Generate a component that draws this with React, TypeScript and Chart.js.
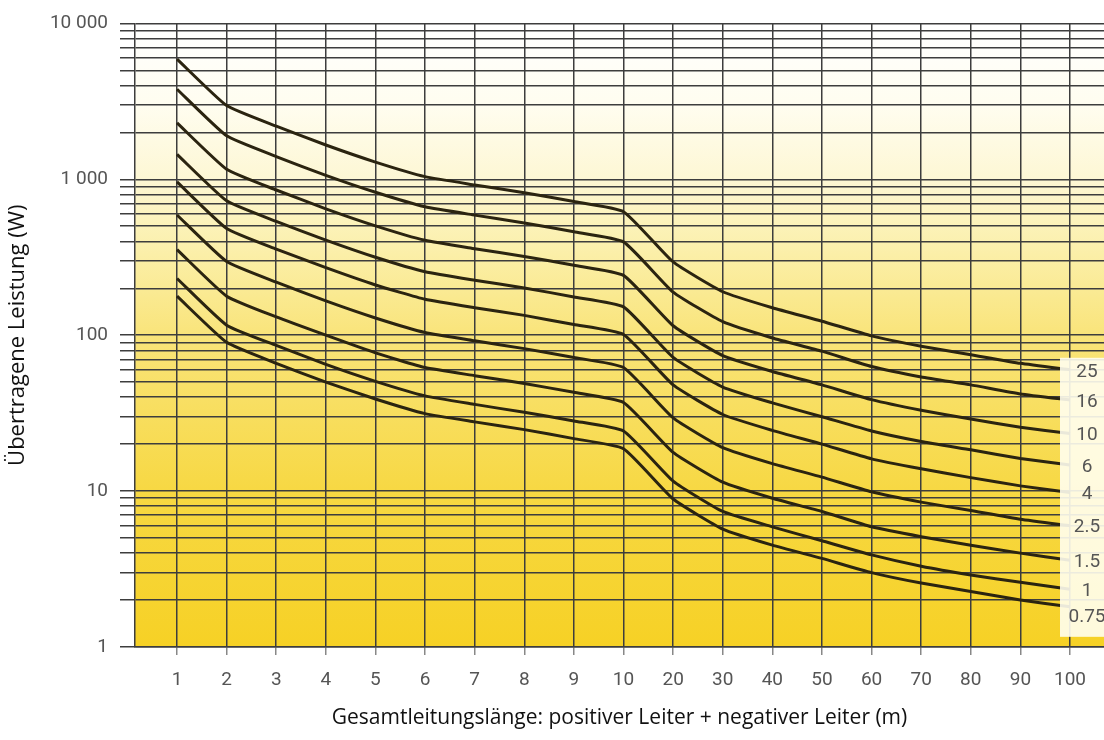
import React, { useEffect, useRef } from "react";
import { Chart, registerables } from "chart.js";

Chart.register(...registerables);

// Categories (cable length, m)
const X_LABELS = ["1", "2", "3", "4", "5", "6", "7", "8", "9", "10", "20", "30", "40", "50", "60", "70", "80", "90", "100"];

// Series names (cross-section, mm²)
const SERIES_NAMES = ["25", "16", "10", "6", "4", "2.5", "1.5", "1", "0.75"];

// Transferred power (W), one value per category
const S25 = [5900, 2970, 2190, 1660, 1290, 1040, 920, 820, 720, 620, 295, 190, 150, 123, 99, 85, 75, 66, 60];
const S16 = [3780, 1900, 1400, 1060, 826, 666, 589, 525, 461, 397, 189, 122, 96, 79, 63, 54, 48, 42, 38.4];
const S10 = [2300, 1160, 854, 647, 503, 406, 359, 320, 281, 242, 115, 74, 58.5, 48, 38.6, 33, 29, 25.7, 23.4];
const S6 = [1445, 728, 537, 407, 316, 255, 225, 201, 176, 152, 72, 46.5, 36.8, 30, 24.3, 20.8, 18.4, 16.2, 14.7];
const S4 = [962, 484, 357, 271, 210, 170, 150, 134, 117, 101, 48, 31, 24.5, 20, 16.1, 13.9, 12.2, 10.8, 9.8];
const S2_5 = [590, 297, 219, 166, 129, 104, 92, 82, 72, 62, 29.5, 19, 15, 12.3, 9.9, 8.5, 7.5, 6.6, 6.0];
const S1_5 = [354, 178, 131, 100, 77, 62, 55, 49, 43, 37, 17.7, 11.4, 9, 7.4, 5.9, 5.1, 4.5, 4.0, 3.6];
const S1 = [231, 116, 86, 65, 50.6, 40.8, 36, 32, 28.2, 24.3, 11.6, 7.4, 5.9, 4.8, 3.9, 3.3, 2.9, 2.6, 2.35];
const S0_75 = [178, 90, 66, 50, 39, 31.4, 27.8, 24.8, 21.7, 18.7, 8.9, 5.7, 4.5, 3.7, 3.0, 2.57, 2.27, 2.0, 1.81];

const SERIES = [S25, S16, S10, S6, S4, S2_5, S1_5, S1, S0_75];

// Y axis labelled ticks
const Y_TICK_VALUES = [1, 10, 100, 1000, 10000];
const Y_TICK_LABELS = ["1", "10", "100", "1 000", "10 000"];

const Y_TITLE = "Übertragene Leistung (W)";
const X_TITLE = "Gesamtleitungslänge: positiver Leiter + negativer Leiter (m)";

const TICK_FONT = 'Roboto, "Liberation Sans Narrow", sans-serif';
const TITLE_FONT = '"Open Sans", "Noto Sans", sans-serif';

export default function App() {
  const canvasRef = useRef<HTMLCanvasElement | null>(null);

  useEffect(() => {
    const canvas = canvasRef.current;
    if (!canvas) return;

    const yGrid: number[] = [];
    for (let d = 0; d < Y_TICK_VALUES.length - 1; d++) {
      for (let m = 1; m <= 9; m++) yGrid.push(m * Y_TICK_VALUES[d]);
    }
    yGrid.push(Y_TICK_VALUES[Y_TICK_VALUES.length - 1]);

    const bgPlugin = {
      id: "bgGradient",
      beforeDraw(chart: any) {
        const { ctx, chartArea } = chart;
        if (!chartArea) return;
        const g = ctx.createLinearGradient(0, chartArea.top, 0, chartArea.bottom);
        g.addColorStop(0, "#FFFFFF");
        g.addColorStop(0.13, "#FFFDF0");
        g.addColorStop(0.25, "#FDF7D4");
        g.addColorStop(0.37, "#FBEFA8");
        g.addColorStop(0.5, "#F9E47A");
        g.addColorStop(0.75, "#F7D843");
        g.addColorStop(1, "#F6D125");
        ctx.save();
        ctx.fillStyle = g;
        ctx.fillRect(chartArea.left, chartArea.top, chartArea.right - chartArea.left, chartArea.bottom - chartArea.top);
        ctx.restore();
      },
    };

    const labelPlugin = {
      id: "seriesLabels",
      afterDatasetsDraw(chart: any) {
        const { ctx, chartArea, scales } = chart;
        const ys = SERIES.map((s) => scales.y.getPixelForValue(s[s.length - 1]));
        const boxLeft = chartArea.right - 44;
        const top = ys[0] - 12;
        const bottom = ys[ys.length - 1] + 30;
        ctx.save();
        ctx.fillStyle = "rgba(255,254,240,0.9)";
        ctx.fillRect(boxLeft, top, chartArea.right - boxLeft, bottom - top);
        ctx.fillStyle = "#555";
        ctx.font = "19px " + TICK_FONT;
        ctx.textAlign = "center";
        ctx.textBaseline = "middle";
        SERIES_NAMES.forEach((name, i) => {
          const extra = i === SERIES_NAMES.length - 1 ? 10 : 2;
          ctx.fillText(name, chartArea.right - 17, ys[i] + extra);
        });
        ctx.restore();
      },
    };

    const chart = new Chart(canvas, {
      type: "line",
      data: {
        datasets: SERIES.map((s, i) => ({
          label: SERIES_NAMES[i],
          data: s.map((v, j) => ({ x: j + 1, y: v })),
          borderColor: "#2B2410",
          borderWidth: 3,
          pointRadius: 0,
          tension: 0.15,
          fill: false,
        })),
      },
      options: {
        animation: false,
        responsive: false,
        devicePixelRatio: 1,
        layout: { padding: { top: 17, right: 0, left: 0, bottom: 0 } },
        plugins: { legend: { display: false }, tooltip: { enabled: false } },
        scales: {
          x: {
            type: "linear",
            min: 0.153,
            max: 19.685,
            afterFit: (scale: any) => {
              scale.height = 93;
            },
            afterBuildTicks: (scale: any) => {
              scale.ticks = X_LABELS.map((_, i) => ({ value: i + 1 }));
            },
            ticks: {
              autoSkip: false,
              maxRotation: 0,
              padding: 14,
              color: "#555",
              font: { family: TICK_FONT, size: 19 },
              callback: (value: any) => X_LABELS[Math.round(Number(value)) - 1] ?? "",
            },
            grid: {
              color: "#3d3d3d",
              lineWidth: 1.5,
              tickLength: 8,
              tickColor: "#888",
              drawTicks: true,
            },
            border: { display: true, color: "#3d3d3d", width: 1.5 },
            title: {
              display: true,
              text: X_TITLE,
              color: "#111",
              font: { family: TITLE_FONT, size: 21 },
              padding: { top: 0, bottom: 9 },
            },
          },
          y: {
            type: "logarithmic",
            min: 1,
            max: 10000,
            afterFit: (scale: any) => {
              scale.width = 135;
            },
            afterBuildTicks: (scale: any) => {
              scale.ticks = yGrid.map((v) => ({ value: v, major: Y_TICK_VALUES.includes(v) }));
            },
            ticks: {
              autoSkip: false,
              padding: 12,
              color: "#555",
              font: { family: TICK_FONT, size: 19 },
              callback: (value: any) => {
                const i = Y_TICK_VALUES.indexOf(Number(value));
                return i >= 0 ? Y_TICK_LABELS[i] : "";
              },
            },
            grid: {
              color: "#3d3d3d",
              lineWidth: 1.5,
              tickLength: 15,
              drawTicks: true,
            },
            border: { display: true, color: "#3d3d3d", width: 1.5 },
            title: {
              display: true,
              text: Y_TITLE,
              color: "#111",
              font: { family: TITLE_FONT, size: 22 },
              padding: { top: 5, bottom: 0 },
            },
          },
        },
      },
      plugins: [bgPlugin, labelPlugin],
    });

    return () => {
      chart.destroy();
    };
  }, []);

  return (
    <div style={{ position: "absolute", left: 0, top: 0, width: 1104, height: 740, background: "#fff" }}>
      <canvas ref={canvasRef} width={1104} height={740} />
    </div>
  );
}
